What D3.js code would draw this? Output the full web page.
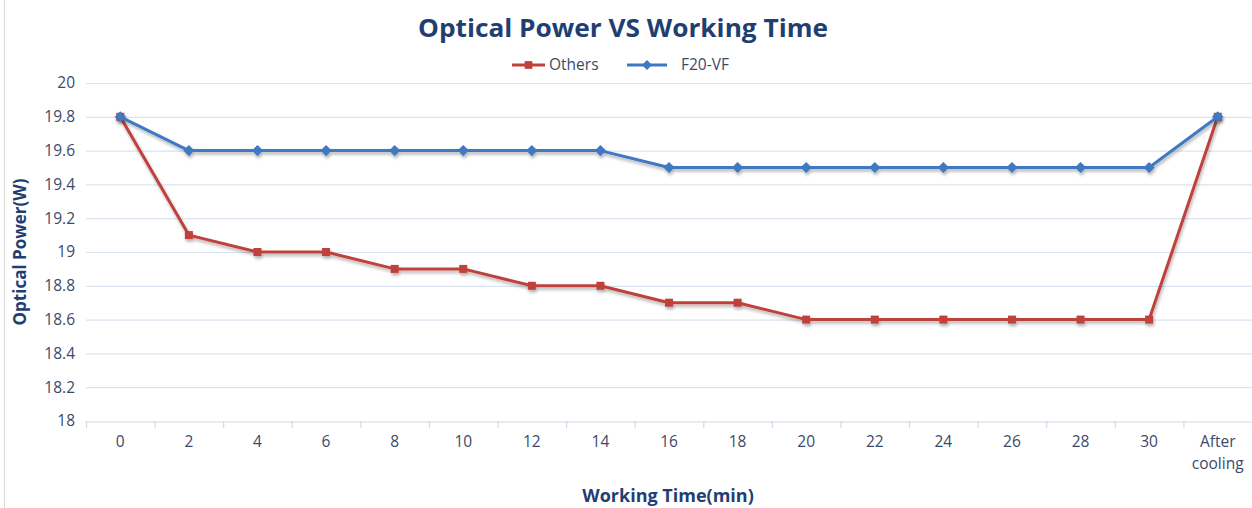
<!DOCTYPE html>
<html><head><meta charset="utf-8">
<script src="https://cdn.jsdelivr.net/npm/d3@7"></script>
<style>html,body{margin:0;padding:0;background:#fff;}svg{display:block;}</style>
</head><body>
<svg id="c" width="1252" height="508"></svg>
<script>
const categories = ["0","2","4","6","8","10","12","14","16","18","20","22","24","26","28","30","After cooling"];
const others = [19.8,19.1,19.0,19.0,18.9,18.9,18.8,18.8,18.7,18.7,18.6,18.6,18.6,18.6,18.6,18.6,19.8];
const f20vf  = [19.8,19.6,19.6,19.6,19.6,19.6,19.6,19.6,19.5,19.5,19.5,19.5,19.5,19.5,19.5,19.5,19.8];
const yTicks = [18,18.2,18.4,18.6,18.8,19,19.2,19.4,19.6,19.8,20];
const seriesNames = ["Others","F20-VF"];

const svg = d3.select("#c");
const W = 1252, H = 508;
const m = {left:86, right:0, top:83, bottom:87};
const x = d3.scaleBand().domain(categories).range([m.left, W - m.right]).paddingInner(0).paddingOuter(0);
const y = d3.scaleLinear().domain([18,20]).range([H - m.bottom, m.top]);
const navy = "#1f3f73", tickCol = "#3b4a6a";
const red = "#c0413b", blue = "#3f78c2";

const defs = svg.append("defs");
const f = defs.append("filter").attr("id","sh").attr("x","-5%").attr("y","-20%").attr("width","110%").attr("height","150%");
f.append("feDropShadow").attr("dx",1).attr("dy",2.5).attr("stdDeviation",1.8).attr("flood-color","#000").attr("flood-opacity",0.3);

// left frame line
svg.append("line").attr("x1",4.5).attr("x2",4.5).attr("y1",0).attr("y2",H).attr("stroke","#d9d9d9").attr("stroke-width",1);

// gridlines
svg.append("g").selectAll("line").data(yTicks.filter(d=>d>18)).join("line")
  .attr("x1",m.left).attr("x2",W).attr("y1",d=>y(d)+0.5).attr("y2",d=>y(d)+0.5)
  .attr("stroke","#d9e4f0").attr("stroke-width",1.2);

// y axis
const ya = svg.append("g").attr("transform",`translate(${m.left},0)`)
  .call(d3.axisLeft(y).tickValues(yTicks).tickSize(0).tickPadding(11).tickFormat(d3.format("~g")));
ya.select(".domain").remove();
ya.selectAll("text").attr("fill",tickCol).style("font-family","Open Sans, sans-serif").style("font-size","15.5px");

// x axis
const xa = svg.append("g").attr("transform",`translate(0,${y(18)+0.5})`)
  .call(d3.axisBottom(x).tickSize(0).tickPadding(14));
xa.select(".domain").attr("stroke","#d0dbe8").attr("stroke-width",1.2);
xa.selectAll("text").attr("fill",tickCol).style("font-family","Open Sans, sans-serif").style("font-size","15.5px")
  .each(function(d){
    if (d === "After cooling") {
      const t = d3.select(this); t.text(null);
      t.append("tspan").attr("x",0).attr("dy","0.71em").text("After");
      t.append("tspan").attr("x",0).attr("dy","1.45em").text("cooling");
    }
  });
// boundary ticks
svg.append("g").selectAll("line").data(categories.map(c=>x(c)).concat([W])).join("line")
  .attr("x1",d=>d+0.5).attr("x2",d=>d+0.5).attr("y1",y(18)).attr("y2",y(18)+7)
  .attr("stroke","#d0dbe8").attr("stroke-width",1.2);

const cx = c => x(c) + x.bandwidth()/2;
const line = d3.line().x((d,i)=>cx(categories[i])).y(d=>y(d));

function drawSeries(vals, color, diamond){
  const g = svg.append("g").attr("filter","url(#sh)");
  g.append("path").datum(vals).attr("d",line).attr("fill","none").attr("stroke",color).attr("stroke-width",3).attr("stroke-linejoin","round");
  const sym = d3.symbol().type(d3.symbolSquare).size(diamond?62:64);
  g.selectAll("path.m").data(vals).join("path").attr("class","m")
    .attr("transform",(d,i)=>`translate(${cx(categories[i])},${y(d)})`+(diamond?" rotate(45)":""))
    .attr("d",sym).attr("fill",color);
}
drawSeries(others, red, false);
drawSeries(f20vf, blue, true);

// title
svg.append("text").attr("x",623).attr("y",37).attr("text-anchor","middle")
  .attr("fill",navy).style("font-family","Open Sans, sans-serif").style("font-weight","bold").style("font-size","25px")
  .attr("textLength",410).attr("lengthAdjust","spacingAndGlyphs")
  .text("Optical Power VS Working Time");

// legend
const lg = svg.append("g");
const leg = [{n:seriesNames[0],c:red,d:false,x0:512,x1:545,tx:549},{n:seriesNames[1],c:blue,d:true,x0:627,x1:667,tx:681}];
leg.forEach(l=>{
  lg.append("line").attr("x1",l.x0).attr("x2",l.x1).attr("y1",65).attr("y2",65).attr("stroke",l.c).attr("stroke-width",3);
  lg.append("path").attr("transform",`translate(${(l.x0+l.x1)/2},65)`+(l.d?" rotate(45)":"")).attr("d",d3.symbol().type(d3.symbolSquare).size(l.d?50:60)).attr("fill",l.c);
  lg.append("text").attr("x",l.tx).attr("y",70).attr("fill","#3b4a66").style("font-family","Open Sans, sans-serif").style("font-size","15.5px").text(l.n);
});

// axis titles
svg.append("text").attr("transform","translate(26,252) rotate(-90)").attr("text-anchor","middle")
  .attr("fill",navy).style("font-family","Open Sans, sans-serif").style("font-weight","bold").style("font-size","17px")
  .text("Optical Power(W)");
svg.append("text").attr("x",668).attr("y",502).attr("text-anchor","middle")
  .attr("fill",navy).style("font-family","Open Sans, sans-serif").style("font-weight","bold").style("font-size","18px")
  .text("Working Time(min)");
</script>
</body></html>
